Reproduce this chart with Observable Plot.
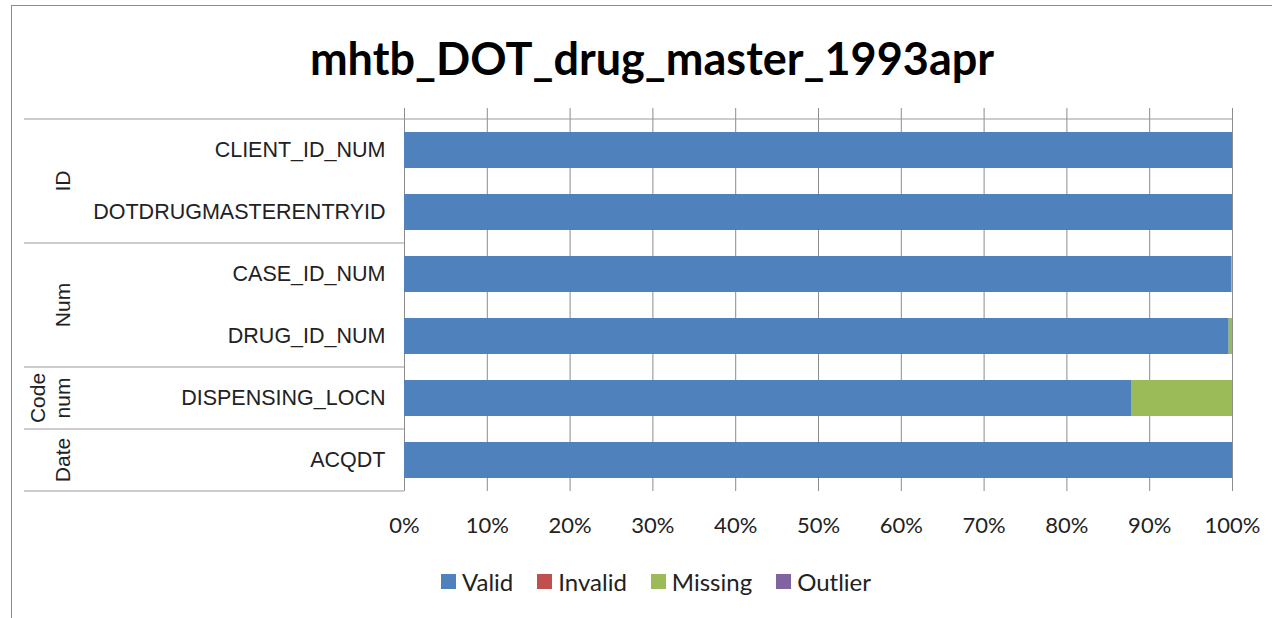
<!DOCTYPE html>
<html>
<head>
<meta charset="utf-8">
<script src="https://cdn.jsdelivr.net/npm/d3@7"></script>
<script src="https://cdn.jsdelivr.net/npm/@observablehq/plot@0.6"></script>
<style>
  html, body { margin: 0; padding: 0; background: #fff; }
  #wrap { position: relative; width: 1272px; height: 618px; overflow: hidden; background: #fff; }
  #border { position: absolute; left: 11px; top: 5px; width: 1300px; height: 700px; border-left: 1.5px solid #8c8c8c; border-top: 1.5px solid #8c8c8c; }
  #title { position: absolute; left: 0; top: 30px; width: 1304px; text-align: center; font-family: Lato, sans-serif; font-weight: bold; font-size: 45px; color: #000; line-height: 56px; }
  #chart { position: absolute; left: 0; top: 100px; }
  #legend { position: absolute; left: 0; top: 567px; width: 1312px; display: flex; justify-content: center; font-family: Lato, sans-serif; font-size: 24px; color: #222; }
  .item { display: flex; align-items: center; margin: 0 12px; }
  .sw { width: 15px; height: 15px; margin-right: 6px; display: inline-block; }
</style>
</head>
<body>
<div id="wrap">
  <div id="border"></div>
  <div id="title"></div>
  <div id="chart"></div>
  <div id="legend"></div>
</div>
<script>
const title = "mhtb_DOT_drug_master_1993apr";
const fields = ["CLIENT_ID_NUM", "DOTDRUGMASTERENTRYID", "CASE_ID_NUM", "DRUG_ID_NUM", "DISPENSING_LOCN", "ACQDT"];
const groups = ["ID", "ID", "Num", "Num", "Code num", "Date"];
const statuses = ["Valid", "Invalid", "Missing", "Outlier"];
const colors = ["#4F81BD", "#C0504D", "#9BBB59", "#8064A2"];
const valid   = [100, 100, 99.9, 99.6, 87.8, 100];
const invalid = [0, 0, 0, 0, 0, 0];
const missing = [0, 0, 0.1, 0.4, 12.2, 0];
const outlier = [0, 0, 0, 0, 0, 0];
const xTicks = [0, 10, 20, 30, 40, 50, 60, 70, 80, 90, 100];

const series = [valid, invalid, missing, outlier];
const rows = [];
fields.forEach((f, i) => {
  statuses.forEach((s, j) => rows.push({field: f, status: s, value: series[j][i]}));
});

document.getElementById("title").textContent = title;

function groupFrame(index, scales, values, dims) {
  const y = scales.y;
  const bw = y.bandwidth();
  const c = f => y(f) + bw / 2;
  const step = c(fields[1]) - c(fields[0]);
  const g = d3.create("svg:g");
  const x0 = 24, x1 = dims.marginLeft, xr = dims.width - dims.marginRight;
  const stroke = "#9a9a9a";
  const top = c(fields[0]) - step / 2;
  g.append("line").attr("x1", x0).attr("x2", xr).attr("y1", top).attr("y2", top).attr("stroke", stroke);
  const uniq = [...new Set(groups)];
  uniq.forEach(grp => {
    const idx = groups.map((d, i) => d === grp ? i : -1).filter(i => i >= 0);
    const first = c(fields[idx[0]]), last = c(fields[idx[idx.length - 1]]);
    const bottom = last + step / 2;
    g.append("line").attr("x1", x0).attr("x2", x1).attr("y1", bottom).attr("y2", bottom).attr("stroke", stroke);
    const mid = (first + last) / 2;
    const lines = grp.split(" ");
    lines.forEach((ln, k) => {
      const xx = 63 - (lines.length - 1 - k) * 25;
      g.append("text")
        .attr("transform", `translate(${xx},${mid}) rotate(-90)`)
        .attr("text-anchor", "middle")
        .attr("dy", "0.35em")
        .attr("font-family", "'Liberation Sans', Arial, sans-serif")
        .attr("font-size", 21)
        .attr("fill", "#222")
        .text(ln);
    });
  });
  return g.node();
}

const chart = Plot.plot({
  width: 1272,
  height: 440,
  marginTop: 18,
  marginBottom: 49,
  marginLeft: 404,
  marginRight: 40,
  style: {background: "transparent", overflow: "visible"},
  x: {domain: [0, 100], ticks: xTicks},
  y: {domain: fields, paddingInner: 0.42, paddingOuter: 0.21},
  color: {domain: statuses, range: colors},
  marks: [
    Plot.ruleX(xTicks, {stroke: "#8c8c8c", strokeOpacity: 1, insetTop: -10}),
    Plot.barX(rows, {x: "value", y: "field", fill: "status"}),
    Plot.axisX({ticks: xTicks, tickSize: 0, tickPadding: 26, tickFormat: d => d + "%", fontSize: 22, fontFamily: "Lato, sans-serif", fill: "#222", label: null}),
    Plot.axisY({tickSize: 0, tickPadding: 19, fontSize: 21.5, fontFamily: "'Liberation Sans', Arial, sans-serif", fill: "#222", label: null}),
    groupFrame
  ]
});
document.getElementById("chart").appendChild(chart);

const legend = document.getElementById("legend");
statuses.forEach((s, i) => {
  const it = document.createElement("div");
  it.className = "item";
  const sw = document.createElement("span");
  sw.className = "sw";
  sw.style.background = colors[i];
  const t = document.createElement("span");
  t.textContent = s;
  it.appendChild(sw); it.appendChild(t);
  legend.appendChild(it);
});
</script>
</body>
</html>
